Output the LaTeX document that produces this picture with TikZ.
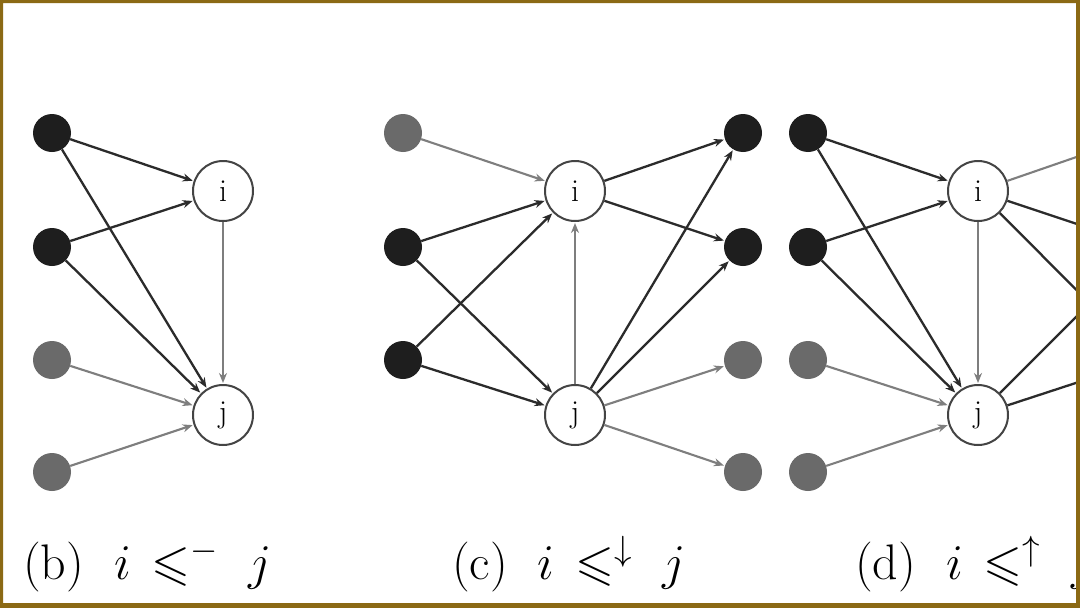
\RequirePackage{fix-cm}
\documentclass[tikz,border=0pt]{standalone}
\usepackage{amssymb}
\usetikzlibrary{arrows.meta}
\definecolor{frame}{HTML}{8B6914}
\definecolor{dk}{HTML}{1E1E1E}
\definecolor{gy}{HTML}{6A6A6A}
\definecolor{dkedge}{HTML}{2B2B2B}
\definecolor{gyedge}{HTML}{7E7E7E}
\definecolor{rim}{HTML}{444444}
\begin{document}
\begin{tikzpicture}[x=1pt,y=-1pt,
  dotd/.style={circle,fill=dk,minimum size=38pt,inner sep=0pt},
  dotg/.style={circle,fill=gy,minimum size=38pt,inner sep=0pt},
  vtx/.style={circle,draw=rim,line width=2pt,fill=white,minimum size=60pt,inner sep=0pt,font=\fontsize{32}{34}\selectfont},
  ed/.style={draw=dkedge,line width=2.3pt,-{Stealth[length=10pt,width=8pt]},shorten >=1pt},
  eg/.style={draw=gyedge,line width=2.1pt,-{Stealth[length=10pt,width=8pt]},shorten >=1pt},
  ld/.style={draw=dkedge,line width=2.3pt},
  lg/.style={draw=gyedge,line width=2.1pt},
  lab/.style={anchor=base west,inner sep=0pt,font=\fontsize{50}{60}\selectfont}]
\useasboundingbox (0,0) rectangle (1080,608);
\fill[white] (0,0) rectangle (1080,608);
\begin{scope}
\clip (3,3) rectangle (1076,603);
% ---------- panel (b)
\node[dotd] (b1) at (52,133) {};
\node[dotd] (b2) at (52,247) {};
\node[dotg] (b3) at (52,360) {};
\node[dotg] (b4) at (52,472) {};
\node[vtx] (bi) at (223,191) {i};
\node[vtx] (bj) at (223,415) {j};
\draw[ed] (b1) -- (bi);
\draw[ed] (b1) -- (bj);
\draw[ed] (b2) -- (bi);
\draw[ed] (b2) -- (bj);
\draw[eg] (b3) -- (bj);
\draw[eg] (b4) -- (bj);
\draw[eg] (bi) -- (bj);
% ---------- panel (c)
\node[dotg] (c1) at (403,133) {};
\node[dotd] (c2) at (403,247) {};
\node[dotd] (c3) at (403,360) {};
\node[vtx] (ci) at (575,191) {i};
\node[vtx] (cj) at (575,415) {j};
\node[dotd] (r1) at (743,133) {};
\node[dotd] (r2) at (743,247) {};
\node[dotg] (r3) at (743,360) {};
\node[dotg] (r4) at (743,472) {};
\draw[eg] (c1) -- (ci);
\draw[ed] (c2) -- (ci);
\draw[ed] (c3) -- (ci);
\draw[ed] (c2) -- (cj);
\draw[ed] (c3) -- (cj);
\draw[eg] (cj) -- (ci);
\draw[ed] (ci) -- (r1);
\draw[ed] (ci) -- (r2);
\draw[ed] (cj) -- (r1);
\draw[ed] (cj) -- (r2);
\draw[eg] (cj) -- (r3);
\draw[eg] (cj) -- (r4);
% ---------- panel (d)
\node[dotd] (d1) at (808,133) {};
\node[dotd] (d2) at (808,247) {};
\node[dotg] (d3) at (808,360) {};
\node[dotg] (d4) at (808,472) {};
\node[vtx] (di) at (978,191) {i};
\node[vtx] (dj) at (978,415) {j};
\coordinate (s1) at (1146,133);
\coordinate (s2) at (1146,247);
\coordinate (s3) at (1146,360);
\draw[ed] (d1) -- (di);
\draw[ed] (d1) -- (dj);
\draw[ed] (d2) -- (di);
\draw[ed] (d2) -- (dj);
\draw[eg] (d3) -- (dj);
\draw[eg] (d4) -- (dj);
\draw[eg] (di) -- (dj);
\draw[lg] (di) -- (s1);
\draw[ld] (di) -- (s2);
\draw[ld] (di) -- (s3);
\draw[ld] (dj) -- (s2);
\draw[ld] (dj) -- (s3);
% ---------- captions
\node[lab] (capb) at (23,579) {(b)\hspace{0.6em}$i\mskip2.5mu \leqslant^{-} \mskip6mu j$};
\node[lab] (capc) at (452,579) {(c)\hspace{0.6em}$i\mskip2.5mu \leqslant^{\downarrow} \mskip6mu j$};
\node[lab] (capd) at (855,579) {(d)\hspace{0.6em}$i\mskip2.5mu \leqslant^{\uparrow} \mskip6mu j$};
\end{scope}
\fill[frame,even odd rule] (0,0) rectangle (1080,608) (3,3) rectangle (1076,603);
\end{tikzpicture}
\end{document}
